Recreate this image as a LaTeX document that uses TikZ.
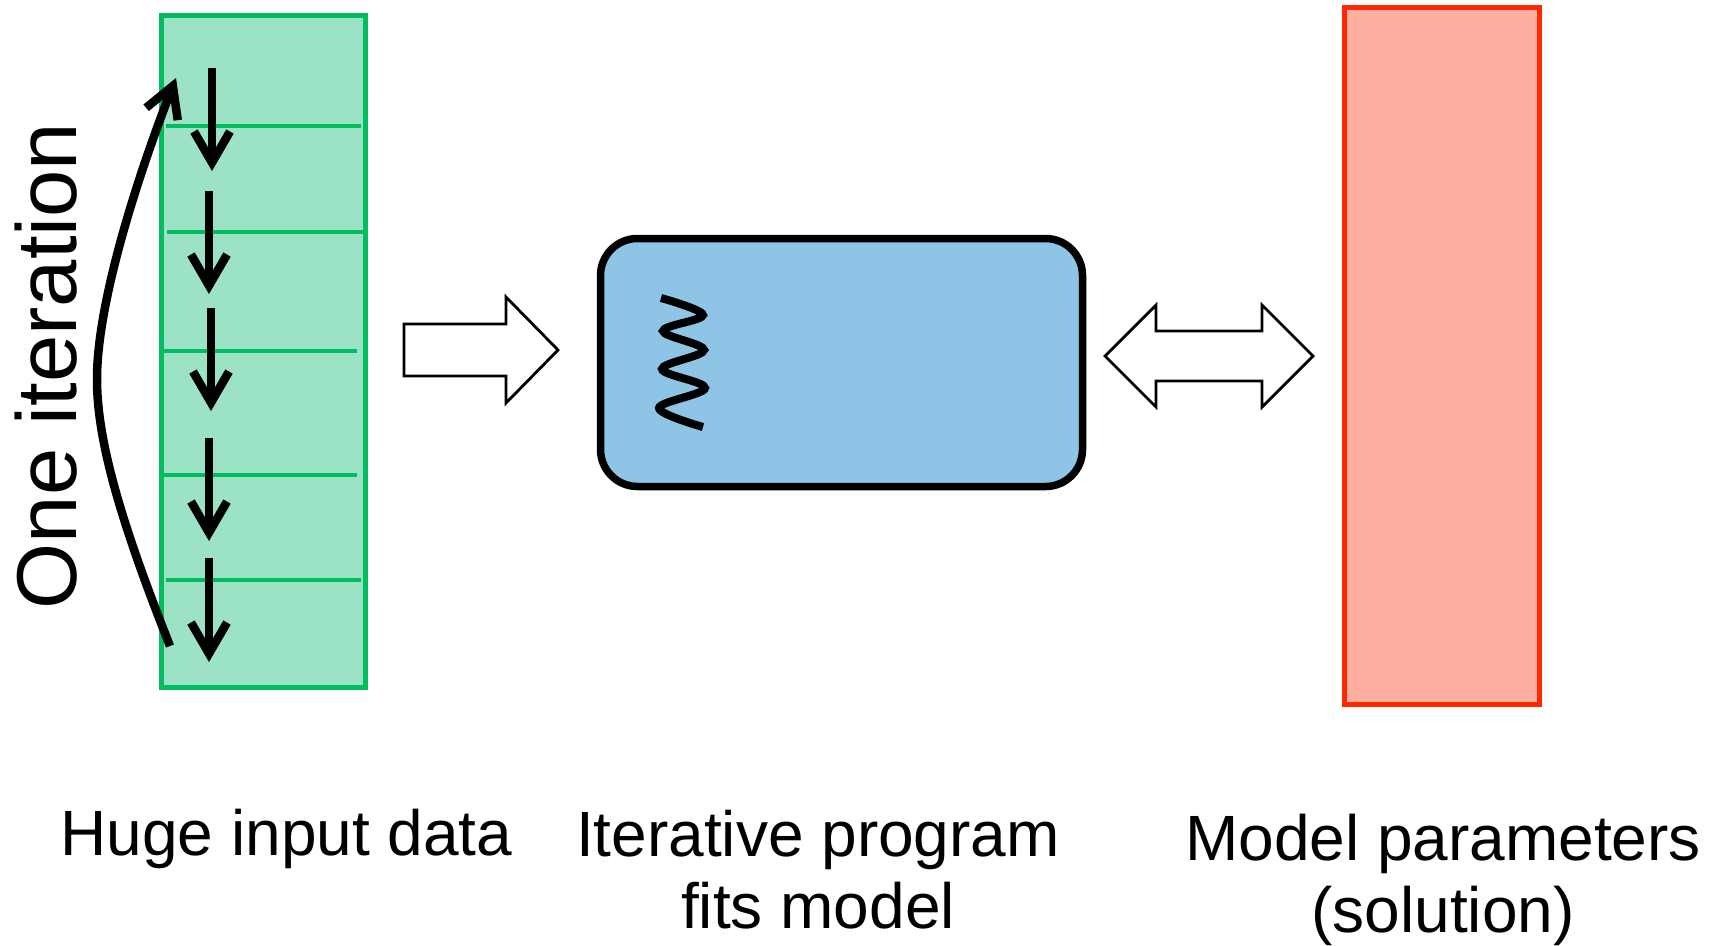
\documentclass[tikz,border=0pt]{standalone}
\usepackage{fontspec}
\setmainfont{Liberation Sans}
\usetikzlibrary{arrows.meta}
\definecolor{greenfill}{RGB}{155,227,196}
\definecolor{greenline}{RGB}{0,190,95}
\definecolor{bluefill}{RGB}{142,197,230}
\definecolor{redfill}{RGB}{253,176,162}
\definecolor{redline}{RGB}{255,40,0}
\begin{document}
\begin{tikzpicture}[x=1pt,y=-1pt,
  databox/.style={draw=greenline, fill=greenfill, line width=5pt, minimum width=204pt, minimum height=672pt, inner sep=0pt},
  progbox/.style={draw=black, fill=bluefill, line width=7.5pt, rounded corners=37pt, minimum width=482pt, minimum height=248pt, inner sep=0pt},
  parambox/.style={draw=redline, fill=redfill, line width=5.5pt, minimum width=195pt, minimum height=697pt, inner sep=0pt},
  rowline/.style={draw=greenline, line width=3.5pt},
  flow/.style={draw=black, line width=8.5pt, -{Straight Barb[length=31pt,width=36pt]}},
  loopflow/.style={draw=black, line width=8.5pt, -{Straight Barb[length=30pt,width=34pt]}},
  blockarrow/.style={draw=black, fill=white, line width=2.8pt, line join=miter},
  label/.style={font=\fontsize{64}{72}\selectfont, align=center, anchor=base, inner sep=0pt},
  biglabel/.style={font=\fontsize{85}{96}\selectfont, anchor=base, inner sep=0pt, rotate=90}
]
\useasboundingbox (0,0) rectangle (1718,945);

% boxes
\node[databox] (data) at (263,351) {};
\node[progbox] (prog) at (841.5,362.5) {};
\node[parambox] (params) at (1442,356) {};

% rows in data
\draw[rowline] (166,126) -- (361,126);
\draw[rowline] (167,232) -- (363,232);
\draw[rowline] (162,351) -- (357,351);
\draw[rowline] (162,475) -- (357,475);
\draw[rowline] (166,580) -- (361,580);

% down arrows
\coordinate (s1) at (212,68);  \coordinate (e1) at (212,171);
\coordinate (s2) at (209,191); \coordinate (e2) at (209,294);
\coordinate (s3) at (211,308); \coordinate (e3) at (211,411);
\coordinate (s4) at (209,438); \coordinate (e4) at (209,541);
\coordinate (s5) at (209,558); \coordinate (e5) at (209,662);
\foreach \i in {1,...,5} {\draw[flow] (s\i) -- (e\i);}

% loop back arrow
\coordinate (lb) at (170,646);
\coordinate (lm) at (97,379);
\coordinate (lt) at (176,78);
\draw[loopflow] (lb) .. controls (120,520) and (97,440) .. (lm)
  .. controls (97,300) and (140,170) .. (lt);

% one iteration label
\node[biglabel] (iter) at (76,366) {One iteration};

% squiggle in program box
\draw[line width=8pt, line cap=butt]
  plot[smooth, tension=0.6] coordinates {(661,298) (703,315) (663,331) (704,350) (662,369) (705,388) (659,408) (703,427)};

% block arrows
\draw[blockarrow] (404,324) -- (506,324) -- (506,297) -- (558,350) -- (506,403) -- (506,376) -- (404,376) -- cycle;
\draw[blockarrow] (1105,356) -- (1156,305) -- (1156,331) -- (1262,331) -- (1262,305) -- (1313,356) -- (1262,407) -- (1262,381) -- (1156,381) -- (1156,407) -- cycle;

% labels
\node[label] (l1) at (286.5,855) {Huge input data};
\node[label] (l2) at (818,928) {Iterative program\\fits model};
\node[label] (l3) at (1443,932) {Model parameters\\(solution)};
\end{tikzpicture}
\end{document}
